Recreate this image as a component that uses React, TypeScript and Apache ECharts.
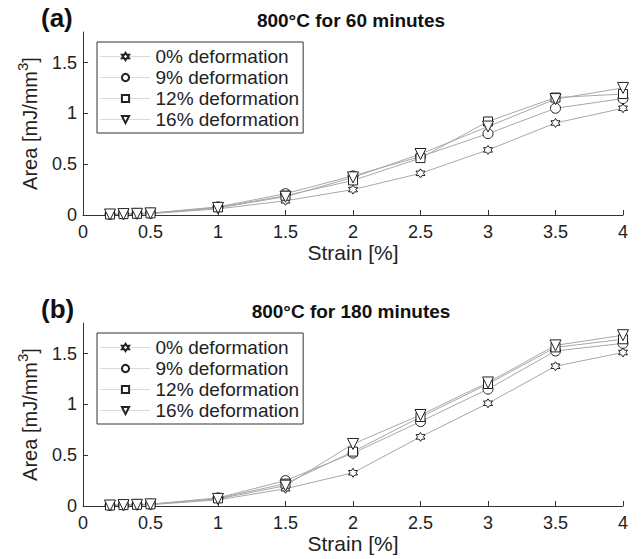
import React, { useEffect, useRef } from "react";
import * as echarts from "echarts";

const strain = [0.2, 0.3, 0.4, 0.5, 1, 1.5, 2, 2.5, 3, 3.5, 4];
const seriesNames = ["0% deformation", "9% deformation", "12% deformation", "16% deformation"];

// (a) 800°C for 60 minutes
const a0 = [0.004, 0.007, 0.01, 0.013, 0.06, 0.14, 0.25, 0.41, 0.64, 0.905, 1.05];
const a9 = [0.006, 0.01, 0.013, 0.018, 0.08, 0.21, 0.385, 0.575, 0.8, 1.05, 1.145];
const a12 = [0.005, 0.009, 0.012, 0.016, 0.075, 0.19, 0.34, 0.56, 0.92, 1.155, 1.19];
const a16 = [0.005, 0.009, 0.012, 0.016, 0.07, 0.18, 0.37, 0.6, 0.87, 1.14, 1.25];

// (b) 800°C for 180 minutes
const b0 = [0.004, 0.007, 0.01, 0.013, 0.06, 0.17, 0.327, 0.68, 1.01, 1.375, 1.51];
const b9 = [0.006, 0.01, 0.013, 0.018, 0.08, 0.25, 0.52, 0.83, 1.15, 1.525, 1.6];
const b12 = [0.005, 0.009, 0.012, 0.016, 0.075, 0.22, 0.535, 0.875, 1.2, 1.56, 1.64];
const b16 = [0.005, 0.009, 0.012, 0.016, 0.07, 0.2, 0.61, 0.895, 1.215, 1.58, 1.68];

const xTicks = [0, 0.5, 1, 1.5, 2, 2.5, 3, 3.5, 4];
const yTicks = [0, 0.5, 1, 1.5];

const panelLabels = ["(a)", "(b)"];
const panelTitles = ["800°C for 60 minutes", "800°C for 180 minutes"];

function hexagramPath(): string {
  const pts: string[] = [];
  for (let i = 0; i < 12; i++) {
    const r = i % 2 === 0 ? 1 : 0.577;
    const ang = (Math.PI / 6) * i - Math.PI / 2;
    pts.push(`${(r * Math.cos(ang)).toFixed(3)} ${(r * Math.sin(ang)).toFixed(3)}`);
  }
  return "path://M" + pts.join(" L") + " Z";
}

const FONT = "Liberation Sans";

export default function App() {
  const ref = useRef<HTMLDivElement>(null);
  useEffect(() => {
    document.body.style.margin = "0";
    if (!ref.current) return;
    const chart = echarts.init(ref.current, null, { renderer: "svg" });
    const star = hexagramPath();
    const symbols = [star, "circle", "rect", "triangle"];
    const rotations = [0, 0, 0, 180];
    const sizes = [9, 10, 9, 11];
    const panels = [
      [a0, a9, a12, a16],
      [b0, b9, b12, b16],
    ];
    const gridTops = [32, 323];
    const gridH = 183;

    const series: any[] = [];
    panels.forEach((vals, p) => {
      vals.forEach((arr, k) => {
        series.push({
          type: "line",
          name: seriesNames[k],
          xAxisIndex: p,
          yAxisIndex: p,
          data: strain.map((x, i) => [x, arr[i]]),
          symbol: symbols[k],
          symbolRotate: rotations[k],
          symbolSize: sizes[k],
          showAllSymbol: true,
          lineStyle: { color: "#a8a8a8", width: 1 },
          itemStyle: { color: "#ffffff", borderColor: "#222", borderWidth: 1 },
          z: 2,
        });
      });
    });

    const mkX = (i: number) => ({
      type: "value",
      gridIndex: i,
      min: 0,
      max: 4,
      interval: 0.5,
      name: "Strain [%]",
      nameLocation: "middle",
      nameGap: 26,
      nameTextStyle: { fontFamily: FONT, fontSize: 21, color: "#222" },
      axisLine: { lineStyle: { color: "#333", width: 1 } },
      axisTick: { inside: true, length: 5, lineStyle: { color: "#333" }, customValues: xTicks },
      axisLabel: { fontFamily: FONT, fontSize: 18, color: "#222", margin: 8, customValues: xTicks },
      splitLine: { show: false },
    });
    const mkY = (i: number) => ({
      type: "value",
      gridIndex: i,
      min: 0,
      max: 1.8,
      name: "{m|Area [mJ/mm}{s|3}{m|]}",
      nameLocation: "middle",
      nameRotate: 90,
      nameGap: 38,
      nameTextStyle: {
        fontFamily: FONT,
        fontSize: 20,
        color: "#222",
        rich: {
          m: { fontFamily: FONT, fontSize: 20, color: "#222", lineHeight: 30 },
          s: { fontFamily: FONT, fontSize: 15, color: "#222", lineHeight: 7, verticalAlign: "top" },
        },
      },
      axisLine: { show: true, lineStyle: { color: "#333", width: 1 } },
      axisTick: { inside: true, length: 5, lineStyle: { color: "#333" }, customValues: yTicks },
      axisLabel: { fontFamily: FONT, fontSize: 18, color: "#222", margin: 6, customValues: yTicks },
      splitLine: { show: false },
    });

    chart.setOption({
      animation: false,
      backgroundColor: "#ffffff",
      title: [0, 1].flatMap((i) => [
        {
          text: panelLabels[i],
          left: 41,
          top: gridTops[i] - 27,
          padding: 0,
          textStyle: { fontFamily: FONT, fontSize: 26, fontWeight: "bold", color: "#111" },
        },
        {
          text: panelTitles[i],
          left: 351,
          textAlign: "center",
          top: gridTops[i] - 21,
          padding: 0,
          textStyle: { fontFamily: FONT, fontSize: 19, fontWeight: "bold", color: "#111" },
        },
      ]),
      legend: [0, 1].map((i) => ({
        data: seriesNames,
        orient: "vertical",
        left: 97,
        top: gridTops[i] + 10,
        itemWidth: 50,
        itemHeight: 9,
        itemGap: 2,
        padding: [5, 4, 4, 3],
        borderColor: "#333",
        borderWidth: 1,
        backgroundColor: "#fff",
        selectedMode: false,
        lineStyle: { color: "#b4b4b4", width: 1, type: "dotted" },
        textStyle: { fontFamily: FONT, fontSize: 19, color: "#222", lineHeight: 19 },
      })),
      grid: [0, 1].map((i) => ({
        left: 83,
        right: 19,
        top: gridTops[i],
        height: gridH,
        containLabel: false,
      })),
      xAxis: [mkX(0), mkX(1)],
      yAxis: [mkY(0), mkY(1)],
      series,
    });
    return () => chart.dispose();
  }, []);
  return <div ref={ref} style={{ width: 642, height: 559 }} />;
}
